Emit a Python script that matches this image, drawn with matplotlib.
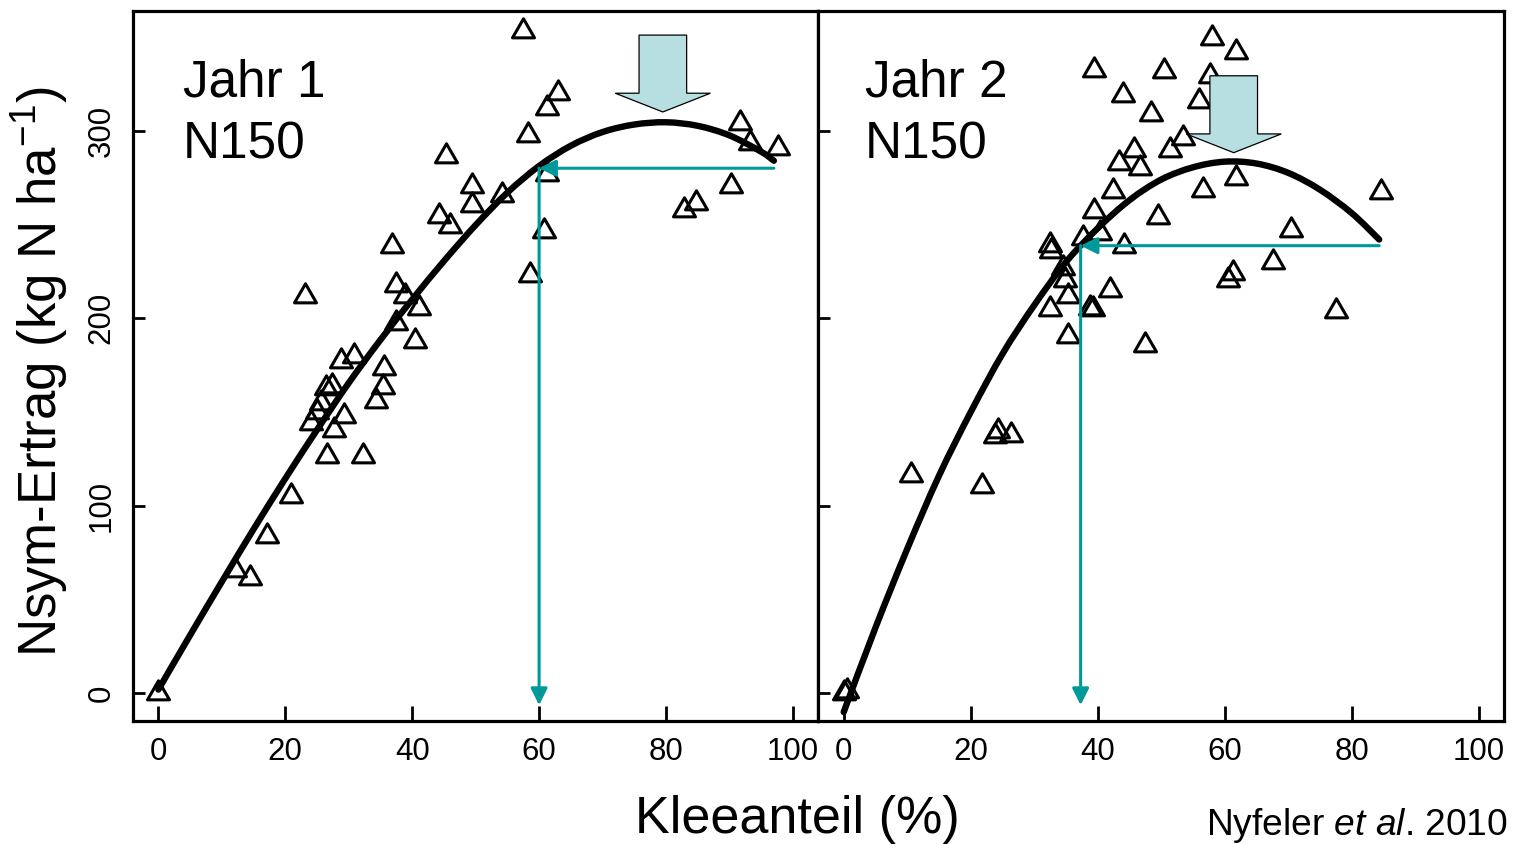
import numpy as np
import matplotlib
matplotlib.use("Agg")
import matplotlib.pyplot as plt
from matplotlib.path import Path
from matplotlib.patches import Polygon, FancyArrowPatch, ArrowStyle, PathPatch

plt.rcParams['font.family'] = ['Liberation Sans', 'DejaVu Sans']
plt.rcParams['mathtext.fontset'] = 'custom'
plt.rcParams['mathtext.rm'] = 'Liberation Sans'
plt.rcParams['mathtext.it'] = 'Liberation Sans:italic'

# ---------------- data ----------------
year1_clover = [0, 12.0, 14.4, 17.1, 20.9, 23.1, 24.0, 25.0, 25.6, 26.4, 26.5, 27.4,
                27.7, 28.8, 29.3, 30.8, 32.2, 34.3, 35.4, 35.6, 36.8, 37.5, 37.5,
                38.9, 40.5, 41.1, 44.3, 45.3, 45.9, 49.4, 49.5, 54.2, 57.4, 58.2,
                58.6, 60.7, 61.2, 61.2, 62.9, 82.8, 84.8, 90.2, 91.7, 93.3, 97.6]
year1_nsym = [0, 65.5, 61.5, 84, 105, 212, 144.2, 150, 154.8, 162.8, 126.6, 164,
              140.4, 177.2, 147.9, 179.9, 126.6, 155.9, 163.4, 173.5, 238.6, 217.8, 197.5,
              212, 187.9, 205.5, 254.6, 286.6, 249.2, 260.4, 270.6, 265.8, 353.2, 297.8,
              223.1, 246.6, 277, 312.2, 320, 257.8, 261.5, 270.6, 304.2, 293.5, 290.8]

year2_clover = [0, 0.5, 10.6, 21.7, 23.8, 24.3, 26.4, 32.4, 32.5, 32.6, 34.6, 34.8,
                35.3, 35.3, 37.6, 38.7, 39.3, 39.4, 39.4, 40.3, 42.0, 42.4, 43.4,
                44.0, 44.1, 45.7, 46.7, 47.4, 48.3, 49.5, 50.4, 51.3, 53.4, 55.9,
                56.5, 57.6, 58.0, 60.5, 61.3, 61.8, 61.8, 67.6, 70.4, 77.5, 84.6]
year2_nsym = [0, 1, 116.6, 110.4, 137, 139.7, 137.9, 205, 239.3, 236, 226.8, 220.6,
              211.7, 190.4, 242.8, 205.5, 205, 257, 332.6, 245.5, 215.3, 267.7, 282.8,
              319.3, 238.4, 289.6, 280.2, 185.9, 309.1, 253.9, 331.7, 289.9, 296.2, 315.7,
              268.6, 329, 349.5, 220.6, 224.2, 341.9, 274.8, 229.9, 247.3, 203.7, 267.2]

# fitted curves
fit1_clover = [0, 5, 10, 15, 20, 25, 30, 35, 40, 45, 50, 55, 60, 65, 70, 75, 80, 85, 90, 95, 97]
fit1_nsym = [2, 31, 59.5, 87.5, 114.5, 140.5, 165.5, 188.5, 210, 230.5, 249.7, 267, 281.2,
             292.0, 299.3, 303.3, 304.5, 302.6, 297.5, 288.8, 284]
fit2_clover = [0, 5, 10, 15, 20, 25, 30, 35, 40, 45, 50, 55, 60, 65, 70, 75, 80, 84.3]
fit2_nsym = [-10, 35, 77, 116, 150, 181, 207, 230, 248, 263, 274, 280.5, 283.5, 282.5,
             277.5, 268.5, 256, 242]

# reading guides: (x start of horizontal, level, x read-off)
guide1 = (97.0, 280.0, 60.0)
guide2 = (84.3, 238.7, 37.3)
# optimum (big arrow) positions: (x centre, y tip)
optimum1 = (79.5, 310.0)
optimum2 = (61.4, 288.3)

x_ticks = [0, 20, 40, 60, 80, 100]
y_ticks = [0, 100, 200, 300]
panel_titles = ['Jahr 1', 'Jahr 2']
treatment = 'N150'

# ---------------- styling ----------------
TEAL = '#00999A'
LIGHTBLUE = '#B7DEE0'
tri = Path([(0, 1), (0.866, -0.5), (-0.866, -0.5), (0, 1)],
           [Path.MOVETO, Path.LINETO, Path.LINETO, Path.CLOSEPOLY])

W, H = 1516, 844
fig = plt.figure(figsize=(W / 100, H / 100), dpi=100)
ax1 = fig.add_axes([133 / W, (H - 720.7) / H, 685.3 / W, 710 / H])
ax2 = fig.add_axes([818.3 / W, (H - 720.7) / H, 686 / W, 710 / H])


def smooth_curve(ax, xs, ys, **kw):
    """Draw a smooth (Catmull-Rom as cubic Bezier) line through the read points."""
    p = np.column_stack([xs, ys]).astype(float)
    verts = [p[0]]
    codes = [Path.MOVETO]
    n = len(p)
    for i in range(n - 1):
        p0 = p[i - 1] if i > 0 else p[i]
        p1, p2 = p[i], p[i + 1]
        p3 = p[i + 2] if i + 2 < n else p[i + 1]
        verts += [p1 + (p2 - p0) / 6.0, p2 - (p3 - p1) / 6.0, p2]
        codes += [Path.CURVE4] * 3
    ax.add_patch(PathPatch(Path(verts, codes), fill=False, **kw))


def block_arrow(ax, xc, ytip, half_shaft=3.75, half_head=7.5, head_len=10.0, shaft_len=31.0):
    base = ytip + head_len
    top = base + shaft_len
    verts = [(xc - half_shaft, top), (xc + half_shaft, top), (xc + half_shaft, base),
             (xc + half_head, base), (xc, ytip), (xc - half_head, base),
             (xc - half_shaft, base)]
    ax.add_patch(Polygon(verts, closed=True, facecolor=LIGHTBLUE, edgecolor='black',
                         linewidth=0.9, zorder=6))


def guide_arrows(ax, g):
    xs, level, xr = g
    style = ArrowStyle('-|>', head_length=10, head_width=5)
    ax.add_patch(FancyArrowPatch((xs, level), (xr, level), arrowstyle=style,
                                 mutation_scale=1, color=TEAL, lw=2.2,
                                 shrinkA=0, shrinkB=0, zorder=5))
    ax.add_patch(FancyArrowPatch((xr, level), (xr, -6.3), arrowstyle=style,
                                 mutation_scale=1, color=TEAL, lw=2.2,
                                 shrinkA=0, shrinkB=0, zorder=5))


panels = [
    (ax1, year1_clover, year1_nsym, fit1_clover, fit1_nsym, guide1, optimum1, panel_titles[0], 0.073),
    (ax2, year2_clover, year2_nsym, fit2_clover, fit2_nsym, guide2, optimum2, panel_titles[1], 0.068),
]

for ax, xs, ys, fx, fy, g, opt, title, tx in panels:
    ax.plot(xs, ys, linestyle='none', marker=tri, markersize=18.3, mfc='none',
            mec='black', mew=2.2, zorder=3, clip_on=False)
    smooth_curve(ax, fx, fy, edgecolor='black', lw=4.6, capstyle='round', zorder=4)
    guide_arrows(ax, g)
    block_arrow(ax, *opt)
    ax.set_xlim(-4, 104)
    ax.set_ylim(-14.6, 364.0)
    ax.set_xticks(x_ticks)
    ax.set_xticklabels([str(v) for v in x_ticks])
    ax.set_yticks(y_ticks)
    for sp in ax.spines.values():
        sp.set_linewidth(2.3)
    ax.tick_params(axis='x', direction='in', length=10.8, width=2, labelsize=22.5, pad=12)
    ax.tick_params(axis='y', direction='in', length=8.6, width=2, labelsize=22.5, pad=12)
    ax.text(tx, 0.8785, title, transform=ax.transAxes, fontsize=37, va='baseline', ha='left')
    ax.text(tx, 0.7925, treatment, transform=ax.transAxes, fontsize=37, va='baseline', ha='left')

ax1.set_yticklabels([str(v) for v in y_ticks], rotation=90, va='center', ha='right')
ax2.set_yticklabels([])

fig.text(40 / W, 1 - 372 / H, r'Nsym-Ertrag (kg N ha$^{-1}$)', rotation=90,
         ha='center', va='center', fontsize=38)
fig.text(797.5 / W, (H - 833) / H, 'Kleeanteil (%)', ha='center', va='baseline', fontsize=37.5)
fig.text(1508 / W, (H - 835) / H, r'Nyfeler $\mathit{et\ al}$. 2010', ha='right',
         va='baseline', fontsize=26.7)

fig.savefig('out.png', dpi=100)
